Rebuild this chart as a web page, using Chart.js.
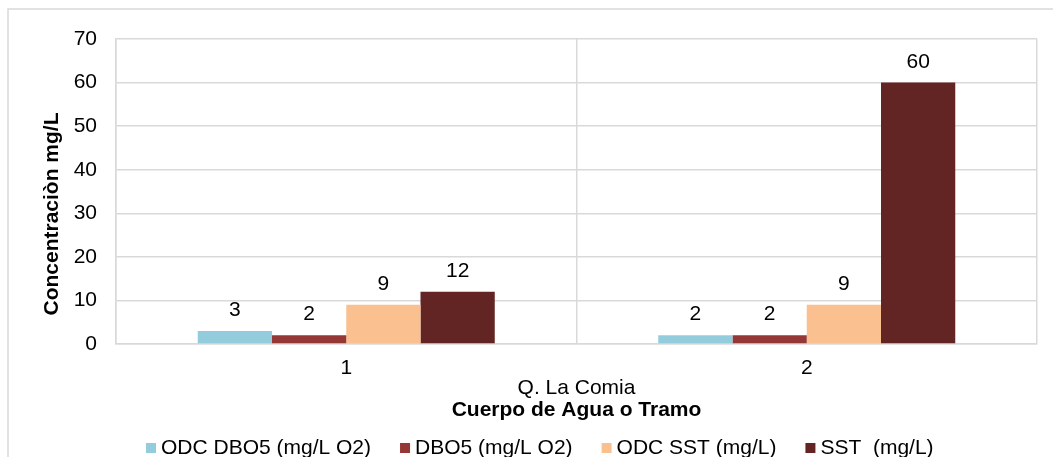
<!DOCTYPE html>
<html lang="es">
<head>
    <meta charset="UTF-8">
    <title>Concentración mg/L</title>
    <script src="https://cdn.jsdelivr.net/npm/chart.js"></script>
    <style>
        html, body {
            margin: 0;
            padding: 0;
            background: #fff;
            overflow: hidden;
        }
        .chart-box {
            width: 1053px;
            height: 457px;
            position: relative;
        }
    </style>
</head>
<body>
    <div class="chart-box">
        <canvas id="concChart"></canvas>
    </div>

    <script>
        // datos
        const categories = ['1', '2'];
        const groupLabel = 'Q. La Comia';
        const odcDbo5 = [3, 2];
        const dbo5 = [2, 2];
        const odcSst = [9, 9];
        const sst = [12, 60];
        const seriesNames = ['ODC DBO5 (mg/L O2)', 'DBO5 (mg/L O2)', 'ODC SST (mg/L)', 'SST  (mg/L)'];
        const seriesColors = ['#93CDDD', '#953735', '#FAC090', '#632523'];
        const yTicks = [0, 10, 20, 30, 40, 50, 60, 70];

        const FONT = 'Liberation Sans, Arial, sans-serif';
        const gridColor = '#d9d9d9';

        // etiquetas, titulos, leyenda y marco
        const extras = {
            id: 'extras',
            beforeDraw(chart) {
                const ctx = chart.ctx;
                ctx.save();
                ctx.strokeStyle = gridColor;
                ctx.lineWidth = 1.5;
                ctx.strokeRect(8, 9, 1060, 470);
                ctx.restore();
            },
            afterDatasetsDraw(chart) {
                const ctx = chart.ctx;
                ctx.save();
                ctx.font = '21px ' + FONT;
                ctx.fillStyle = '#000';
                ctx.textAlign = 'center';
                ctx.textBaseline = 'alphabetic';
                chart.data.datasets.forEach((ds, i) => {
                    chart.getDatasetMeta(i).data.forEach((bar, j) => {
                        ctx.fillText(String(ds.data[j]), bar.x, bar.y - 15);
                    });
                });
                ctx.restore();
            },
            afterDraw(chart) {
                const ctx = chart.ctx;
                const area = chart.chartArea;
                const cx = (area.left + area.right) / 2;
                ctx.save();
                ctx.fillStyle = '#000';
                ctx.textAlign = 'center';
                ctx.textBaseline = 'alphabetic';

                ctx.font = '21px ' + FONT;
                ctx.fillText(groupLabel, cx, 394);
                ctx.font = 'bold 21px ' + FONT;
                ctx.fillText('Cuerpo de Agua o Tramo', cx, 416);

                // titulo eje y
                ctx.save();
                ctx.translate(58, 214);
                ctx.rotate(-Math.PI / 2);
                ctx.fillText('Concentraciòn mg/L', 0, 0);
                ctx.restore();

                // leyenda
                ctx.font = '21px ' + FONT;
                ctx.textAlign = 'left';
                let x = 146;
                chart.data.datasets.forEach(ds => {
                    ctx.fillStyle = ds.backgroundColor;
                    ctx.fillRect(x, 443, 10, 10);
                    ctx.fillStyle = '#000';
                    ctx.fillText(ds.label, x + 15, 454);
                    x += 15 + ctx.measureText(ds.label).width + 29;
                });
                ctx.restore();
            }
        };

        const ctx = document.getElementById('concChart').getContext('2d');
        const concChart = new Chart(ctx, {
            type: 'bar',
            data: {
                labels: categories,
                datasets: [odcDbo5, dbo5, odcSst, sst].map((vals, i) => ({
                    label: seriesNames[i],
                    data: vals,
                    backgroundColor: seriesColors[i],
                    borderWidth: 0,
                    categoryPercentage: 0.645,
                    barPercentage: 1
                }))
            },
            options: {
                responsive: true,
                maintainAspectRatio: false,
                animation: false,
                layout: {
                    padding: { left: 0, top: 39, right: 16, bottom: 0 }
                },
                plugins: {
                    legend: { display: false },
                    tooltip: { enabled: false }
                },
                scales: {
                    x: {
                        grid: { color: gridColor, lineWidth: 1.5, drawTicks: false, offset: true },
                        border: { color: gridColor, width: 1.5 },
                        ticks: { font: { family: FONT, size: 21 }, color: '#000', padding: 12 },
                        afterFit: s => { s.height = 113; }
                    },
                    y: {
                        min: 0,
                        max: 70,
                        afterBuildTicks: s => { s.ticks = yTicks.map(v => ({ value: v })); },
                        grid: { color: gridColor, lineWidth: 1.5, drawTicks: false },
                        border: { color: gridColor, width: 1.5 },
                        ticks: { font: { family: FONT, size: 21 }, color: '#000', padding: 19 },
                        afterFit: s => { s.width = 116; }
                    }
                }
            },
            plugins: [extras]
        });
    </script>
</body>
</html>
